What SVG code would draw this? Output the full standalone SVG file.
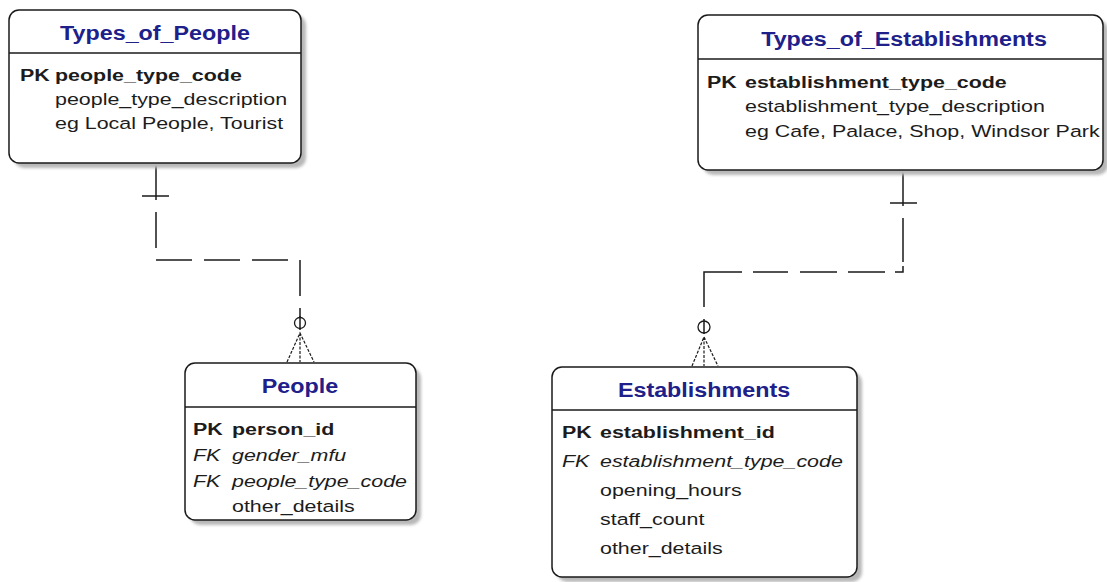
<svg xmlns="http://www.w3.org/2000/svg" width="1107" height="582" viewBox="0 0 1107 582">
<defs>
<filter id="sh" x="-5%" y="-5%" width="110%" height="110%"><feGaussianBlur stdDeviation="1.5"/></filter>
</defs>
<style>
.bg{fill:#ffffff}
.shadow{fill:#b8b8b8;filter:url(#sh)}
.box{fill:#ffffff;stroke:#1a1a1a;stroke-width:1.5}
.div{stroke:#1a1a1a;stroke-width:1.5}
.t{font-family:"Liberation Sans",Arial,sans-serif;font-size:21px;font-weight:bold;fill:#20208a;text-anchor:middle}
.f{font-family:"Liberation Sans",Arial,sans-serif;font-size:17px;fill:#1c1c1c}
.b{font-weight:bold}
.i{font-style:italic}
.ln{fill:none;stroke:#1a1a1a;stroke-width:1.5}
.dash{fill:none;stroke:#1a1a1a;stroke-width:1.5}
.foot{fill:none;stroke:#1a1a1a;stroke-width:1.2;stroke-dasharray:3 1.5}
.ring{fill:#ffffff;stroke:#1a1a1a;stroke-width:1.3}
</style>
<rect class="bg" x="0" y="0" width="1107" height="582"/>

<g id="connectors">
  <g id="rel-people">
    <path class="ln" d="M156,163 V200"/>
    <path class="ln" d="M142,196 H169"/>
    <path class="dash" d="M156,212 V260 H300 V318" stroke-dasharray="36 12"/>
    <circle class="ring" cx="300" cy="323" r="5.5"/>
    <path class="ln" d="M300,316 V330"/>
    <path class="foot" d="M287,362 L300,333 L314,362 M300,333 V362"/>
  </g>
  <g id="rel-establishments">
    <path class="ln" d="M903,170 V206"/>
    <path class="ln" d="M890,203 H917"/>
    <path class="dash" d="M704,307 V272 H903 V218" stroke-dasharray="73 11 35 12 37 11 37 10 14 4 44"/>
    <circle class="ring" cx="704" cy="327" r="6"/>
    <path class="ln" d="M704,319 V334"/>
    <path class="foot" d="M692,366 L704,337 L718,366 M704,337 V366"/>
  </g>
</g>

<g id="Types_of_People">
  <rect class="shadow" x="14" y="15" width="292" height="153" rx="10"/>
  <rect class="box" x="9" y="10" width="292" height="153" rx="10"/>
  <line class="div" x1="9" y1="53" x2="301" y2="53"/>
  <text class="t" transform="translate(155,40) scale(1.11,1)">Types_of_People</text>
  <text class="f b" transform="translate(20,81) scale(1.26,1)">PK</text>
  <text class="f b" transform="translate(55,81) scale(1.26,1)">people_type_code</text>
  <text class="f" transform="translate(55,105) scale(1.26,1)">people_type_description</text>
  <text class="f" transform="translate(55,129) scale(1.26,1)">eg Local People, Tourist</text>
</g>

<g id="Types_of_Establishments">
  <rect class="shadow" x="703" y="20" width="405" height="155" rx="10"/>
  <rect class="box" x="698" y="15" width="405" height="155" rx="10"/>
  <line class="div" x1="698" y1="59" x2="1103" y2="59"/>
  <text class="t" transform="translate(904,46) scale(1.11,1)">Types_of_Establishments</text>
  <text class="f b" transform="translate(707,88) scale(1.26,1)">PK</text>
  <text class="f b" transform="translate(745,88) scale(1.26,1)">establishment_type_code</text>
  <text class="f" transform="translate(745,112) scale(1.26,1)">establishment_type_description</text>
  <text class="f" transform="translate(745,137) scale(1.26,1)">eg Cafe, Palace, Shop, Windsor Park</text>
</g>

<g id="People">
  <rect class="shadow" x="190" y="368" width="231" height="157" rx="10"/>
  <rect class="box" x="185" y="363" width="231" height="157" rx="10"/>
  <line class="div" x1="185" y1="407" x2="416" y2="407"/>
  <text class="t" transform="translate(300,393) scale(1.11,1)">People</text>
  <text class="f b" transform="translate(193,435) scale(1.26,1)">PK</text>
  <text class="f b" transform="translate(232,435) scale(1.26,1)">person_id</text>
  <text class="f i" transform="translate(193,461) scale(1.26,1)">FK</text>
  <text class="f i" transform="translate(232,461) scale(1.26,1)">gender_mfu</text>
  <text class="f i" transform="translate(193,487) scale(1.26,1)">FK</text>
  <text class="f i" transform="translate(232,487) scale(1.26,1)">people_type_code</text>
  <text class="f" transform="translate(232,512) scale(1.26,1)">other_details</text>
</g>

<g id="Establishments">
  <rect class="shadow" x="557" y="372" width="305" height="210" rx="10"/>
  <rect class="box" x="552" y="367" width="305" height="210" rx="10"/>
  <line class="div" x1="552" y1="410" x2="857" y2="410"/>
  <text class="t" transform="translate(704,397) scale(1.11,1)">Establishments</text>
  <text class="f b" transform="translate(562,438) scale(1.26,1)">PK</text>
  <text class="f b" transform="translate(600,438) scale(1.26,1)">establishment_id</text>
  <text class="f i" transform="translate(562,467) scale(1.26,1)">FK</text>
  <text class="f i" transform="translate(600,467) scale(1.26,1)">establishment_type_code</text>
  <text class="f" transform="translate(600,496) scale(1.26,1)">opening_hours</text>
  <text class="f" transform="translate(600,525) scale(1.26,1)">staff_count</text>
  <text class="f" transform="translate(600,554) scale(1.26,1)">other_details</text>
</g>
</svg>
